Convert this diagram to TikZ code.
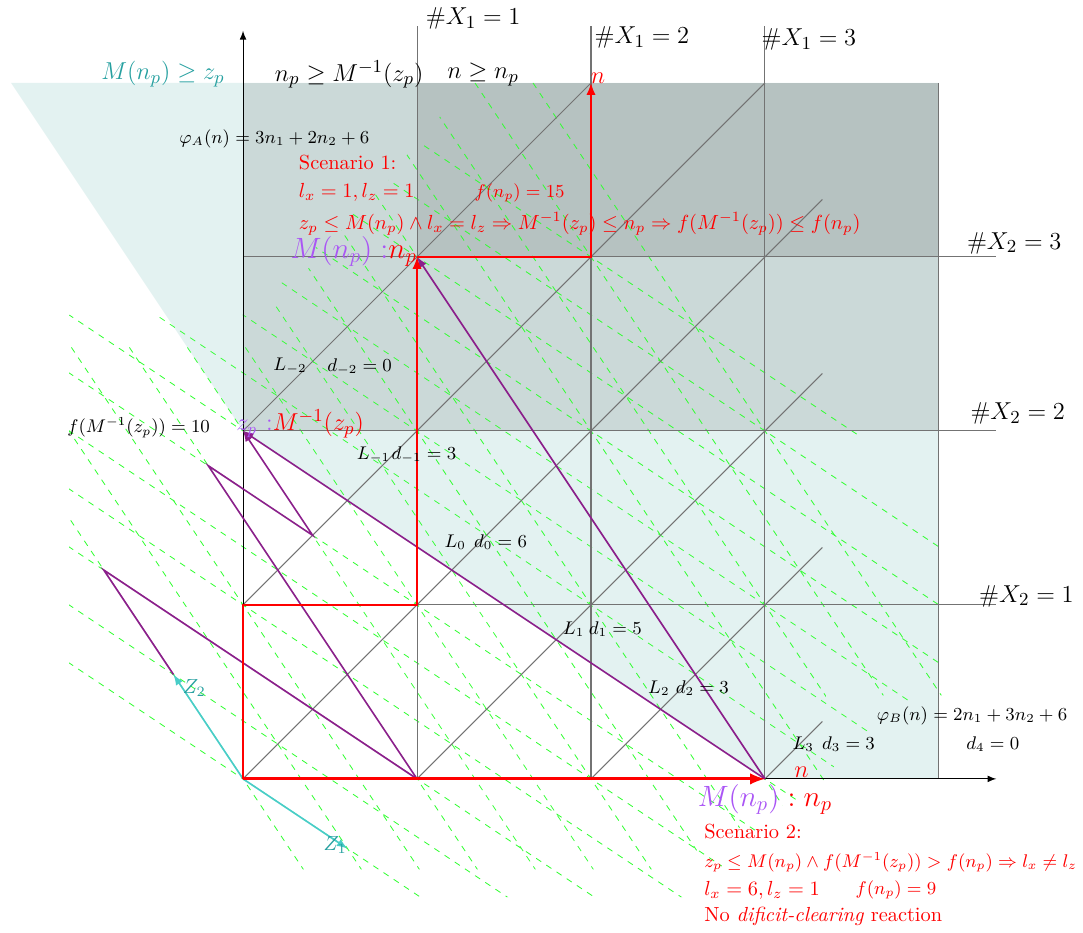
\documentclass[tikz,border=0pt]{standalone}
\usepackage{amsmath}
\usepackage{amssymb}
\usetikzlibrary{arrows,positioning}
\definecolor{tealtext}{RGB}{38,160,160}
\definecolor{violettext}{RGB}{170,85,245}
\definecolor{zarrow}{RGB}{72,205,200}
\definecolor{lightteal}{RGB}{227,242,241}
\definecolor{movepurple}{RGB}{140,30,140}

\begin{document}
\begin{tikzpicture}[
    x=3cm, y=3cm,
    grid/.style={black!55, line width=0.5pt},
    axis/.style={black, line width=0.5pt, -latex},
    redpath/.style={red, line width=1pt, -latex},
    move/.style={movepurple, line width=0.8pt},
    zvec/.style={zarrow, line width=0.8pt, -latex},
    level/.style={green!80!white, dashed, line width=0.4pt},
    lbl/.style={font=\small},
    big/.style={font=\fontsize{13}{15}\selectfont}
]
\useasboundingbox (-1.397,-0.885) rectangle (4.828,4.477);

% regions
\fill[lightteal] (-4/3,4) -- (4,4) -- (4,0) -- (3,0) -- (0,2) -- cycle;
\fill[black, opacity=0.1] (0,2) rectangle (4,4);
\fill[black, opacity=0.1] (1,3) rectangle (4,4);

% level lines of phi_B
\begin{scope}
\clip (-1,0.6) -- (-1,8/3) -- (0,8/3) -- (0.9,3.5) -- (1.3,4) -- (2,4) -- (3.52,2) -- (4.02,1.36) -- (4.02,0.62) -- (2.55,-0.68) -- (0.9,-0.68) -- cycle;
\foreach \c in {0,...,13}
    \draw[level] (-2,{(\c+4)/3}) -- (5,{(\c-10)/3});
\end{scope}
% level lines of phi_A
\begin{scope}
\clip (-1,1.45) -- (-1,2.5) -- (0,2.5) -- (1.3,4) -- (1.7,4) -- (4.02,0.48) -- (3.35,0.48) -- (3.35,-0.02) -- (2.4,-0.52) -- (0.3,-0.52) -- cycle;
\foreach \c in {0,...,13}
    \draw[level] ({(\c+2)/3},-1) -- ({(\c-10)/3},5);
\end{scope}

% grid
\foreach \i in {1,2,3}
    \draw[grid] (\i,0) -- (\i,4.33);
\foreach \j in {1,2,3}
    \draw[grid] (0,\j) -- (4.33,\j);
\draw[grid] (4,0) -- (4,4);
\draw[grid] (0,2) -- (2,4);
\draw[grid] (0,1) -- (3,4);
\draw[grid] (0,0) -- (3.33,3.33);
\draw[grid] (1,0) -- (3.33,2.33);
\draw[grid] (2,0) -- (3.33,1.33);
\draw[grid] (3,0) -- (3.33,0.33);
\draw[axis] (0,0) -- (4.33,0);
\draw[axis] (0,0) -- (0,4.3);

% points
\coordinate (O) at (0,0);
\coordinate (b1) at (0,1);
\coordinate (c1) at (1,1);
\coordinate (a1) at (1,0);
\coordinate (zp) at (0,2);
\coordinate (np) at (1,3);
\coordinate (d1) at (2,3);
\coordinate (nt) at (2,4);
\coordinate (ne) at (3,0);
\coordinate (z1) at (0.6,-0.4);
\coordinate (z2) at (-0.4,0.6);
\coordinate (p1) at (-0.2,1.8);
\coordinate (p2) at (0.4,1.4);
\coordinate (q1) at (-0.8,1.2);

% moves
\draw[move] (a1) -- (q1) -- (z2);
\draw[move, -latex] (a1) -- (p1) -- (p2) -- (zp);
\draw[move, -latex] (ne) -- (zp);
\draw[move, -latex] (ne) -- (np);
\draw[zvec] (O) -- (z1);
\draw[zvec] (O) -- (z2);
\draw[redpath] (O) -- (b1) -- (c1) -- (np);
\draw[redpath] (np) -- (d1) -- (nt);
\draw[redpath, line width=1.5pt] (O) -- (ne);

% labels
\node[big, text=tealtext] (cond1) at (-0.46,4.05) {$M(n_p)\geq z_p$};
\node[big] (cond2) at (0.61,4.05) {$n_p\geq M^{-1}(z_p)$};
\node[big] (cond3) at (1.38,4.05) {$n\geq n_p$};
\node[big, anchor=west] (xa1) at (1.01,4.37) {$\#X_1=1$};
\node[big, anchor=west] (xa2) at (1.98,4.26) {$\#X_1=2$};
\node[big, anchor=west] (xa3) at (2.94,4.25) {$\#X_1=3$};
\node[big, anchor=west] (xb3) at (4.12,3.08) {$\#X_2=3$};
\node[big, anchor=west] (xb2) at (4.14,2.10) {$\#X_2=2$};
\node[big, anchor=west] (xb1) at (4.19,1.05) {$\#X_2=1$};

\node[lbl] (phia) at (0.18,3.68) {$\varphi_A(n)=3n_1+2n_2+6$};
\node[lbl] (phib) at (4.19,0.36) {$\varphi_B(n)=2n_1+3n_2+6$};
\node[lbl] (fzp) at (-0.60,2.02) {$f(M^{-1}(z_p))=10$};

\node[lbl] (lm2) at (0.27,2.37) {$L_{-2}$};
\node[lbl] (dm2) at (0.67,2.37) {$d_{-2}=0$};
\node[lbl] (lm1) at (0.75,1.86) {$L_{-1}$};
\node[lbl] (dm1) at (1.04,1.86) {$d_{-1}=3$};
\node[lbl] (l0) at (1.22,1.36) {$L_0$};
\node[lbl] (d0) at (1.48,1.36) {$d_0=6$};
\node[lbl] (l1) at (1.90,0.86) {$L_1$};
\node[lbl] (d1l) at (2.14,0.86) {$d_1=5$};
\node[lbl] (l2) at (2.39,0.52) {$L_2$};
\node[lbl] (d2l) at (2.64,0.52) {$d_2=3$};
\node[lbl] (l3) at (3.22,0.20) {$L_3$};
\node[lbl] (d3l) at (3.48,0.20) {$d_3=3$};
\node[lbl] (d4l) at (4.31,0.20) {$d_4=0$};

\node[big, text=red] (ntop) at (2.04,4.03) {$n$};
\node[big, text=red] (nbot) at (3.21,0.04) {$n$};
\node[font=\Large, anchor=east] (mtop) at (1.04,3.03) {$\textcolor{violettext}{M(n_p):}\textcolor{red}{n_p}$};
\node[font=\Large] (mbot) at (3.0,-0.12) {$\textcolor{violettext}{M(n_p)}\textcolor{red}{{}:n_p}$};
\node[anchor=west] (zplbl) at (-0.08,2.04) {{\large$\textcolor{violettext}{z_p}$}\;\,{\fontsize{13}{15}\selectfont$\textcolor{violettext}{:}\textcolor{red}{M^{-1}(z_p)}$}};

\node[text=tealtext] (z1l) at (0.53,-0.38) {$Z_1$};
\node[text=tealtext] (z2l) at (-0.28,0.52) {$Z_2$};

% scenario 1
\node[anchor=west, text=red] (s1a) at (0.28,3.54) {Scenario 1:};
\node[anchor=west, text=red] (s1b) at (0.28,3.37) {$l_x=1, l_z=1$};
\node[lbl, anchor=west, text=red] (s1f) at (1.29,3.37) {$f(n_p)=15$};
\node[anchor=west, text=red] (s1c) at (0.28,3.19) {$z_p\leq M(n_p)\wedge l_x=l_z\Rightarrow M^{-1}(z_p)\leq n_p\Rightarrow f(M^{-1}(z_p))\leq f(n_p)$};

% scenario 2
\node[anchor=west, text=red] (s2a) at (2.61,-0.30) {Scenario 2:};
\node[lbl, anchor=west, text=red] (s2b) at (2.61,-0.48) {$z_p\leq M(n_p)\wedge f(M^{-1}(z_p))>f(n_p)\Rightarrow l_x\neq l_z$};
\node[anchor=west, text=red] (s2c) at (2.61,-0.64) {$l_x=6, l_z=1$};
\node[lbl, anchor=west, text=red] (s2f) at (3.48,-0.64) {$f(n_p)=9$};
\node[anchor=west, text=red] (s2d) at (2.61,-0.79) {No \emph{dificit-clearing} reaction};

\end{tikzpicture}
\end{document}
